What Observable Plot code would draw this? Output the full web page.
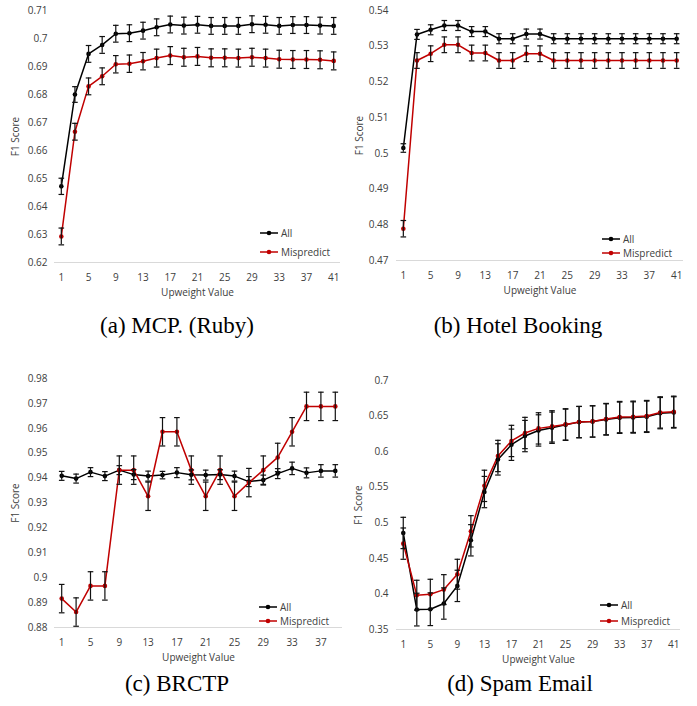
<!DOCTYPE html>
<html><head><meta charset="utf-8">
<script src="https://cdn.jsdelivr.net/npm/d3@7"></script>
<script src="https://cdn.jsdelivr.net/npm/@observablehq/plot@0.6"></script>
<style>
body{margin:0;background:#fff;}
#root{position:relative;width:697px;height:706px;overflow:hidden;font-family:"Open Sans",sans-serif;background:#fff;}
.panel{position:absolute;}
.cap{position:absolute;font-family:"Liberation Serif","Times New Roman",serif;font-size:23px;color:#000;transform:translate(-50%,-50%);white-space:nowrap;}
.leg{position:absolute;font-size:10px;color:#404040;display:flex;align-items:center;height:14px;white-space:nowrap;}
.leg svg{margin-right:3px;}
</style></head><body><div id="root"></div>
<script>
// ---------- data ----------
const upweight41 = [1,3,5,7,9,11,13,15,17,19,21,23,25,27,29,31,33,35,37,39,41];
const upweight39 = [1,3,5,7,9,11,13,15,17,19,21,23,25,27,29,31,33,35,37,39];
const ticks41 = [1,5,9,13,17,21,25,29,33,37,41];
const ticks39 = [1,5,9,13,17,21,25,29,33,37];
const seriesNames = ["All", "Mispredict"];
const captions = ["(a) MCP. (Ruby)", "(b) Hotel Booking", "(c) BRCTP", "(d) Spam Email"];

// (a) MCP. (Ruby)
const mcpYTicks = [0.62,0.63,0.64,0.65,0.66,0.67,0.68,0.69,0.70,0.71];
const mcpAll = [0.6472,0.6800,0.6945,0.6977,0.7017,0.7019,0.7028,0.7040,0.7050,0.7046,0.7049,0.7045,0.7045,0.7045,0.7051,0.7049,0.7045,0.7048,0.7048,0.7046,0.7045];
const mcpAllErr = [0.0029,0.0028,0.003,0.003,0.003,0.003,0.003,0.003,0.003,0.003,0.003,0.003,0.003,0.003,0.003,0.003,0.003,0.003,0.003,0.003,0.003];
const mcpMis = [0.6293,0.6667,0.6829,0.6865,0.6908,0.6910,0.6919,0.6930,0.6939,0.6933,0.6936,0.6931,0.6931,0.6930,0.6933,0.6930,0.6926,0.6925,0.6925,0.6924,0.6920];
const mcpMisErr = [0.003,0.003,0.003,0.003,0.0031,0.0031,0.0031,0.0032,0.0032,0.0032,0.0032,0.0032,0.0032,0.0032,0.0032,0.0032,0.0032,0.0032,0.0032,0.0032,0.0032];

// (b) Hotel Booking
const hotelYTicks = [0.47,0.48,0.49,0.50,0.51,0.52,0.53,0.54];
const hotelAll = [0.5015,0.5333,0.5346,0.5358,0.5358,0.5341,0.5341,0.5321,0.5321,0.5334,0.5334,0.5321,0.5321,0.5321,0.5321,0.5321,0.5321,0.5321,0.5321,0.5321,0.5321];
const hotelAllErr = [0.0012,0.0014,0.0014,0.0014,0.0014,0.0014,0.0014,0.0014,0.0014,0.0014,0.0014,0.0014,0.0014,0.0014,0.0014,0.0014,0.0014,0.0014,0.0014,0.0014,0.0014];
const hotelMis = [0.4789,0.5260,0.5279,0.5304,0.5304,0.5281,0.5281,0.5260,0.5260,0.5279,0.5279,0.5260,0.5260,0.5260,0.5260,0.5260,0.5260,0.5260,0.5260,0.5260,0.5260];
const hotelMisErr = [0.0023,0.0022,0.0022,0.0022,0.0022,0.0022,0.0022,0.0022,0.0022,0.0022,0.0022,0.0022,0.0022,0.0022,0.0022,0.0022,0.0022,0.0022,0.0022,0.0022,0.0022];

// (c) BRCTP
const brctpYTicks = [0.88,0.89,0.90,0.91,0.92,0.93,0.94,0.95,0.96,0.97,0.98];
const brctpAll = [0.9409,0.9398,0.9424,0.9408,0.9432,0.9414,0.9408,0.9412,0.9422,0.9413,0.9412,0.9414,0.9408,0.9386,0.9392,0.9418,0.9439,0.9421,0.9429,0.9429];
const brctpAllErr = [0.0018,0.0018,0.0018,0.0018,0.0018,0.002,0.002,0.0015,0.002,0.002,0.002,0.002,0.002,0.002,0.002,0.002,0.0025,0.002,0.0025,0.0025];
const brctpMis = [0.8916,0.8862,0.8967,0.8967,0.9432,0.9432,0.9327,0.9586,0.9586,0.9432,0.9327,0.9432,0.9327,0.9382,0.9432,0.9483,0.9586,0.9688,0.9688,0.9688];
const brctpMisErr = [0.0057,0.0057,0.0057,0.0057,0.0057,0.0057,0.0057,0.0057,0.0057,0.0057,0.0057,0.0057,0.0057,0.0057,0.0057,0.0057,0.0057,0.0057,0.0057,0.0057];

// (d) Spam Email
const spamYTicks = [0.35,0.40,0.45,0.50,0.55,0.60,0.65,0.70];
const spamAll = [0.4857,0.3780,0.3785,0.3865,0.4113,0.4754,0.5432,0.5891,0.6097,0.6219,0.6298,0.6336,0.6378,0.6415,0.6424,0.6452,0.6476,0.6480,0.6490,0.6541,0.6551];
const spamAllErr = [0.022,0.023,0.023,0.022,0.022,0.022,0.022,0.022,0.022,0.022,0.022,0.022,0.022,0.022,0.022,0.022,0.022,0.022,0.022,0.022,0.022];
const spamMis = [0.4707,0.3982,0.3996,0.4061,0.4277,0.4880,0.5519,0.5939,0.6150,0.6262,0.6327,0.6355,0.6383,0.6416,0.6425,0.6458,0.6486,0.6490,0.6500,0.6551,0.6560];
const spamMisErr = [0.022,0.021,0.021,0.021,0.021,0.022,0.022,0.022,0.022,0.022,0.022,0.022,0.022,0.022,0.022,0.022,0.022,0.022,0.022,0.022,0.022];

// ---------- drawing ----------
const COLORS = {All: "#000000", Mispredict: "#c00000"};
const TEXT = "#404040";
const capSymbol = {draw(ctx, size) { const r = Math.sqrt(size / Math.PI); ctx.moveTo(-r, 0); ctx.lineTo(r, 0); }};
const fmt = d => String(+d.toFixed(2));

function rows(xs, all, allErr, mis, misErr) {
  const out = [];
  xs.forEach((x, i) => {
    out.push({series: "All", x, y: all[i], e: allErr[i]});
    out.push({series: "Mispredict", x, y: mis[i], e: misErr[i]});
  });
  return out;
}

function panel(cfg) {
  const data = rows(cfg.xs, cfg.all, cfg.allErr, cfg.mis, cfg.misErr);
  const yMin = cfg.yTicks[0], yMax = cfg.yTicks[cfg.yTicks.length - 1];
  const xMax = cfg.xs[cfg.xs.length - 1] + 1;
  const marks = [Plot.ruleY([yMin], {stroke: "#d9d9d9", strokeWidth: 1})];
  for (const s of seriesNames) {
    const d = data.filter(r => r.series === s);
    marks.push(Plot.line(d, {x: "x", y: "y", stroke: COLORS[s], strokeWidth: 1.5}));
  }
  for (const s of seriesNames) {
    const d = data.filter(r => r.series === s);
    marks.push(Plot.dot(d, {x: "x", y: "y", r: 2.3, fill: COLORS[s], stroke: "none"}));
  }
  marks.push(Plot.ruleX(data, {x: "x", y1: d => d.y - d.e, y2: d => d.y + d.e, stroke: "#111", strokeWidth: 1.2}));
  marks.push(Plot.dot(data, {x: "x", y: d => d.y - d.e, r: 2.8, symbol: capSymbol, stroke: "#111", strokeWidth: 1.2, fill: "none"}));
  marks.push(Plot.dot(data, {x: "x", y: d => d.y + d.e, r: 2.8, symbol: capSymbol, stroke: "#111", strokeWidth: 1.2, fill: "none"}));
  marks.push(Plot.text(["F1 Score"], {frameAnchor: "left", rotate: -90, dx: cfg.yTitleDx, textAnchor: "middle", lineAnchor: "middle", fontSize: 10, fill: TEXT}));
  marks.push(Plot.text(["Upweight Value"], {frameAnchor: "bottom", dy: 30, textAnchor: "middle", lineAnchor: "middle", fontSize: 10, fill: TEXT}));
  return Plot.plot({
    width: cfg.width, height: cfg.height,
    marginLeft: cfg.ml, marginRight: cfg.mr, marginTop: cfg.mt, marginBottom: cfg.mb,
    style: {fontFamily: "'Open Sans', sans-serif", fontSize: "10px", color: TEXT, background: "transparent", overflow: "visible"},
    x: {type: "linear", domain: [0, xMax], ticks: cfg.xTicks, tickSize: 0, tickPadding: 11, label: null, tickFormat: d => String(d)},
    y: {domain: [yMin, yMax], ticks: cfg.yTicks, tickSize: 0, tickPadding: cfg.ypad, tickFormat: fmt, label: null},
    marks
  });
}

const root = document.getElementById("root");
function place(el, left, top) {
  const wrap = document.createElement("div");
  wrap.className = "panel";
  wrap.style.left = left + "px"; wrap.style.top = top + "px";
  wrap.appendChild(el);
  root.appendChild(wrap);
}
function caption(text, cx, cy) {
  const d = document.createElement("div");
  d.className = "cap"; d.textContent = text;
  d.style.left = cx + "px"; d.style.top = cy + "px";
  root.appendChild(d);
}
function legend(x, ys) {
  seriesNames.forEach((s, i) => {
    const d = document.createElement("div");
    d.className = "leg";
    d.style.left = x + "px"; d.style.top = (ys[i] - 7) + "px";
    d.innerHTML = `<svg width="18" height="8"><line x1="0" x2="18" y1="4" y2="4" stroke="${COLORS[s]}" stroke-width="1.5"/><circle cx="9" cy="4" r="2.3" fill="${COLORS[s]}"/></svg><span>${s}</span>`;
    root.appendChild(d);
  });
}

place(panel({xs: upweight41, xTicks: ticks41, all: mcpAll, allErr: mcpAllErr, mis: mcpMis, misErr: mcpMisErr, yTicks: mcpYTicks,
  width: 348, height: 305, ml: 54, mr: 8, mt: 10, mb: 43, ypad: 7, yTitleDx: -39}), 0, 0);
place(panel({xs: upweight41, xTicks: ticks41, all: hotelAll, allErr: hotelAllErr, mis: hotelMis, misErr: hotelMisErr, yTicks: hotelYTicks,
  width: 348, height: 305, ml: 48, mr: 13, mt: 10, mb: 45, ypad: 8, yTitleDx: -37}), 348, 0);
place(panel({xs: upweight39, xTicks: ticks39, all: brctpAll, allErr: brctpAllErr, mis: brctpMis, misErr: brctpMisErr, yTicks: brctpYTicks,
  width: 348, height: 330, ml: 54, mr: 6, mt: 38, mb: 43, ypad: 7, yTitleDx: -39}), 0, 340);
place(panel({xs: upweight41, xTicks: ticks41, all: spamAll, allErr: spamAllErr, mis: spamMis, misErr: spamMisErr, yTicks: spamYTicks,
  width: 348, height: 330, ml: 48, mr: 16, mt: 40, mb: 41, ypad: 8, yTitleDx: -38}), 348, 340);

legend(260, [233, 252]);
legend(602, [239, 253]);
legend(259, [607, 621]);
legend(600, [605, 621]);

caption(captions[0], 177, 326);
caption(captions[1], 518, 326);
caption(captions[2], 177, 684);
caption(captions[3], 520, 684);
</script></body></html>
